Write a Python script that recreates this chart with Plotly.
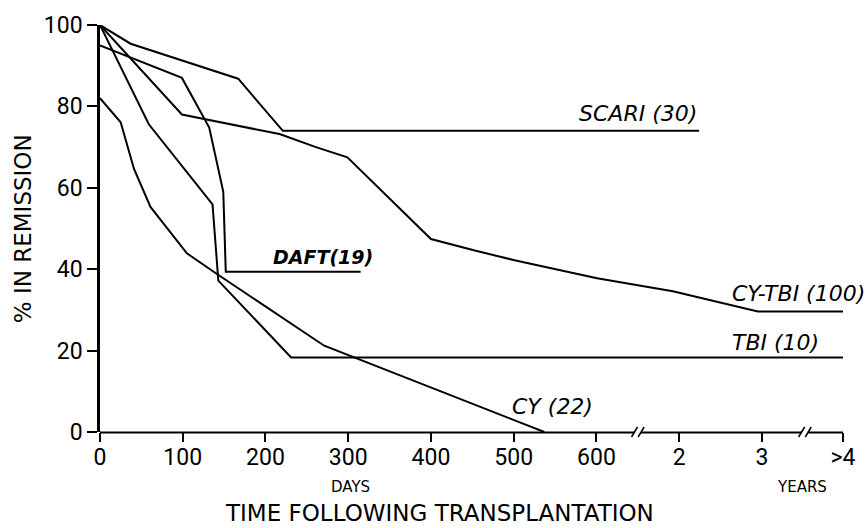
import plotly.graph_objects as go

# Remission curves: time since transplant (days) vs % still in remission
scari_days = [0, 37, 167, 221, 818]
scari_pct = [100, 95.4, 86.8, 74, 74]

cytbi_days = [0, 99, 217, 261, 299, 400, 453, 501, 601, 720, 1077, 1460]
cytbi_pct = [100, 78, 73.2, 70, 67.5, 47.4, 44.6, 42.2, 37.8, 34.6, 29.6, 29.6]

daft_days = [0, 99, 132, 149, 152, 315]
daft_pct = [95, 87, 74.8, 59, 39.4, 39.4]

tbi_days = [0, 59, 136, 143, 231, 1460]
tbi_pct = [100, 75.6, 55.9, 37.2, 18.3, 18.3]

cy_days = [0, 25, 41, 61, 105, 140, 271, 301, 313, 537]
cy_pct = [82, 76.1, 64.7, 55.3, 43.9, 39, 21.2, 18.8, 17.8, 0]

# Broken time axis: days up to 600, then a compressed year scale
axis_days = [0, 600, 730, 1095, 1460]
axis_pos = [0, 600, 700, 800, 898]

tick_pos = [0, 100, 200, 300, 400, 500, 600, 700, 800, 898]
tick_text = ["0", "100", "200", "300", "400", "500", "600", "2", "3", ">4"]
y_ticks = [0, 20, 40, 60, 80, 100]
break_pos = [650, 852]


def to_axis(d):
    for i in range(1, len(axis_days)):
        if d <= axis_days[i]:
            d0, d1 = axis_days[i - 1], axis_days[i]
            p0, p1 = axis_pos[i - 1], axis_pos[i]
            return p0 + (d - d0) * (p1 - p0) / (d1 - d0)
    return axis_pos[-1]


series = [
    (scari_days, scari_pct),
    (cytbi_days, cytbi_pct),
    (daft_days, daft_pct),
    (tbi_days, tbi_pct),
    (cy_days, cy_pct),
]

fig = go.Figure()
for days, pct in series:
    fig.add_trace(go.Scatter(
        x=[to_axis(d) for d in days], y=pct, mode="lines",
        line=dict(color="black", width=2), showlegend=False,
        hoverinfo="skip",
    ))

lab_font = dict(family="DejaVu Sans", size=22, color="black", style="italic")
annotations = [
    dict(text="SCARI (30)", x=to_axis(818), y=74, xanchor="right",
         yanchor="bottom", yshift=3, font=lab_font),
    dict(text="CY-TBI (100)", x=762, y=34, xanchor="left",
         yanchor="middle", font=lab_font),
    dict(text="TBI (10)", x=762, y=21.9, xanchor="left",
         yanchor="middle", font=lab_font),
    dict(text="CY (22)", x=496, y=6.3, xanchor="left",
         yanchor="middle", font=lab_font),
    dict(text="DAFT(19)", x=207, y=42.9, xanchor="left", yanchor="middle",
         font=dict(family="DejaVu Sans", size=19, color="black",
                   style="italic", weight="bold")),
    dict(text="DAYS", x=303, y=-0.134, yref="paper", xanchor="center",
         yanchor="middle", font=dict(family="DejaVu Sans", size=15, color="black")),
    dict(text="YEARS", x=848, y=-0.134, yref="paper", xanchor="center",
         yanchor="middle", font=dict(family="DejaVu Sans", size=15, color="black")),
    dict(text="TIME FOLLOWING TRANSPLANTATION", x=410, y=-0.2, yref="paper",
         xanchor="center", yanchor="middle",
         font=dict(family="DejaVu Sans", size=23, color="black")),
    dict(text="% IN REMISSION", x=-0.104, xref="paper", y=50, textangle=-90,
         xanchor="center", yanchor="middle",
         font=dict(family="DejaVu Sans", size=23, color="black")),
]
for a in annotations:
    a.setdefault("xref", "x")
    a.setdefault("yref", "y")
    a["showarrow"] = False

# Broken x-axis line drawn in segments, with "//" marks at each break
half_gap = 4
seg_edges = [0] + [v for bp in break_pos for v in (bp - half_gap, bp + half_gap)] + [898]
shapes = []
for i in range(0, len(seg_edges), 2):
    shapes.append(dict(type="line", xref="x", yref="paper", ysizemode="pixel",
                       yanchor=0, x0=seg_edges[i], x1=seg_edges[i + 1],
                       y0=-0.5, y1=-0.5,
                       line=dict(color="black", width=2), layer="above"))
for bp in break_pos:
    for off in (-half_gap, half_gap):
        shapes.append(dict(type="line", xref="x", yref="paper", xsizemode="pixel",
                           ysizemode="pixel", xanchor=bp + off, yanchor=0,
                           x0=-3, x1=3, y0=-5, y1=5,
                           line=dict(color="black", width=1.5), layer="above"))

tick_font = dict(family="Roboto", size=23, color="black")
fig.update_layout(
    width=868, height=528,
    margin=dict(l=100, r=20, t=17, b=96),
    paper_bgcolor="white", plot_bgcolor="white",
    annotations=annotations, shapes=shapes,
    xaxis=dict(range=[0, 898], tickmode="array", tickvals=tick_pos,
               ticktext=tick_text, showgrid=False, zeroline=False,
               showline=False,
               ticks="outside", ticklen=9, tickwidth=1.5, tickcolor="black",
               ticklabelstandoff=-5, tickfont=tick_font),
    yaxis=dict(range=[0, 100], tickmode="array", tickvals=y_ticks,
               showgrid=False, zeroline=False,
               showline=True, linecolor="black", linewidth=2.5,
               ticks="outside", ticklen=10, tickwidth=1.5, tickcolor="black",
               tickfont=tick_font),
)

fig.write_html("out.html")
